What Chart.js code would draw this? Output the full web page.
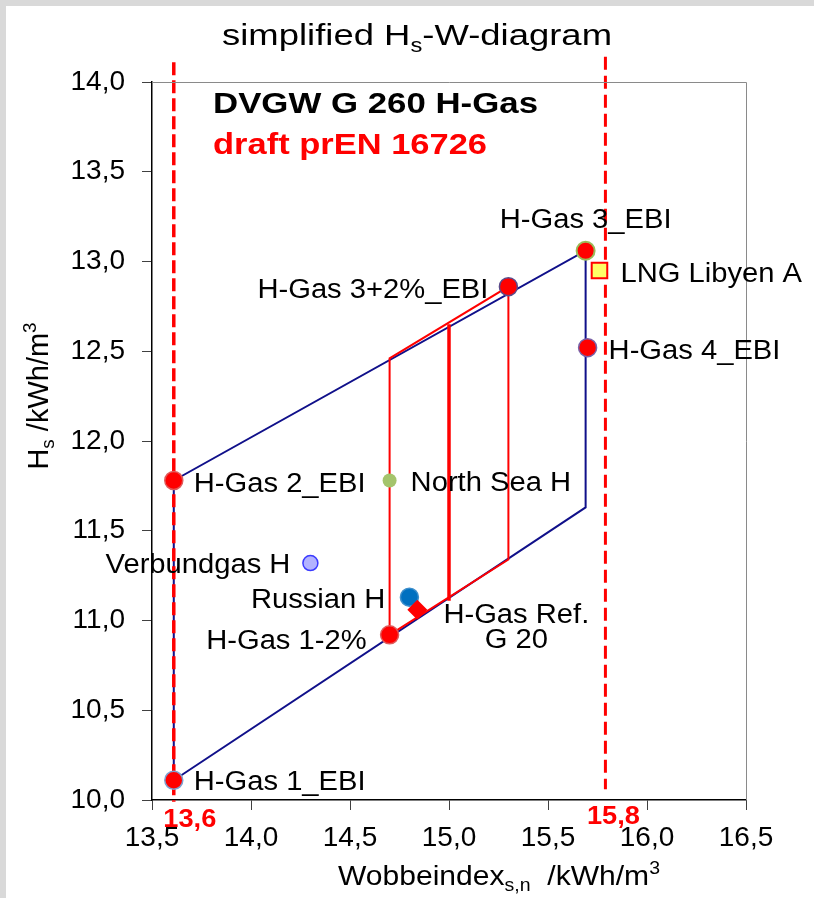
<!DOCTYPE html>
<html>
<head>
<meta charset="utf-8">
<title>simplified Hs-W-diagram</title>
<script src="https://cdn.jsdelivr.net/npm/chart.js@4.4.1/dist/chart.umd.min.js"></script>
<style>
    body { margin: 0; background: #d9d9d9; }
    #wrap { position: absolute; left: 6px; top: 6px; width: 808px; height: 892px; background: #fff; }
</style>
</head>
<body>
<div id="wrap"><canvas id="hsChart"></canvas></div>
<script>
// axis ticks
const xTicks = [13.5, 14.0, 14.5, 15.0, 15.5, 16.0, 16.5];
const xTickLabels = ['13,5', '14,0', '14,5', '15,0', '15,5', '16,0', '16,5'];
const yTicks = [10.0, 10.5, 11.0, 11.5, 12.0, 12.5, 13.0, 13.5, 14.0];
const yTickLabels = ['10,0', '10,5', '11,0', '11,5', '12,0', '12,5', '13,0', '13,5', '14,0'];

// gases (Wobbe index / calorific value)
const gasNames = ['H-Gas 1_EBI', 'H-Gas 2_EBI', 'H-Gas 3_EBI', 'H-Gas 3+2%_EBI', 'H-Gas 4_EBI',
    'H-Gas 1-2%', 'LNG Libyen A', 'North Sea H', 'Verbundgas H', 'Russian H', 'H-Gas Ref.\nG 20'];
const gasW = [13.61, 13.61, 15.69, 15.30, 15.70, 14.70, 15.76, 14.70, 14.30, 14.80, 14.84];
const gasH = [10.11, 11.78, 13.06, 12.86, 12.52, 10.92, 12.95, 11.78, 11.32, 11.13, 11.06];

// DVGW G 260 range (blue)
const dvgwW = [13.61, 15.69, 15.69, 13.61, 13.61];
const dvgwH = [10.11, 11.63, 13.06, 11.78, 10.11];

// draft prEN 16726 range (red)
const prenW = [14.70, 15.30, 15.30, 14.70, 14.70];
const prenH = [10.92, 11.34, 12.86, 12.46, 10.92];
const prenMidW = [15.00, 15.00];
const prenMidH = [11.11, 12.65];

// Wobbe limits (dashed)
const limitLowW = [13.61, 13.61];
const limitLowH = [14.11, 9.99];
const limitHighW = [15.79, 15.79];
const limitHighH = [14.14, 10.06];
const limitLabels = ['13,6', '15,8'];

// marker styles
const gasStyle = ['circle', 'circle', 'circle', 'circle', 'circle', 'circle', 'rect', 'circle', 'circle', 'circle', 'rectRot'];
const gasRadius = [9, 9, 9, 9, 9, 9, 11, 7, 7.5, 9, 10];
const gasFill = ['#ff0000', '#ff0000', '#ff0000', '#ff0000', '#ff0000', '#ff0000', '#ffff66', '#a4c46c', '#b3b3ff', '#0070c0', '#ff0000'];
const gasBorder = ['#7f9fcf', '#e05a5a', '#9bbb59', '#5b4b8a', '#7a62a8', '#e05a5a', '#ff0000', '#a4c46c', '#3a3aff', '#3d8fcc', '#ff0000'];
const gasBorderW = [1.5, 1.5, 2, 1.5, 1.5, 1.5, 2, 0, 1.5, 1.5, 0];

// label placement relative to marker (px)
const labelDx = [20, 20, 0, -20, 21, -23, 21, 21, -20, -24, 99];
const labelDy = [0, 2, -33, 1, 1, 4, 2, 1, 0, 1, 3];
const labelAlign = ['left', 'left', 'center', 'right', 'left', 'right', 'left', 'left', 'right', 'right', 'center'];

const FONT = '"Liberation Sans", Arial, sans-serif';

function pts(xs, ys) {
    return xs.map((x, i) => ({ x: x, y: ys[i] }));
}

// text with sub/superscripts
function richWidth(ctx, parts, size, weight) {
    let w = 0;
    parts.forEach(p => {
        ctx.font = weight + ' ' + ((p.sub || p.sup) ? size * 0.65 : size) + 'px ' + FONT;
        w += ctx.measureText(p.t).width;
    });
    return w;
}

function drawRich(ctx, parts, x, y, o) {
    const weight = o.bold ? 'bold' : 'normal';
    const w = richWidth(ctx, parts, o.size, weight);
    const sx = o.width ? o.width / w : (o.sx || 1);
    ctx.save();
    ctx.translate(x, y);
    if (o.rotate) ctx.rotate(o.rotate);
    ctx.scale(sx, 1);
    let cx = o.align === 'center' ? -w / 2 : (o.align === 'right' ? -w : 0);
    ctx.fillStyle = o.color || '#000';
    ctx.textAlign = 'left';
    ctx.textBaseline = 'alphabetic';
    parts.forEach(p => {
        ctx.font = weight + ' ' + ((p.sub || p.sup) ? o.size * 0.65 : o.size) + 'px ' + FONT;
        const dy = p.sub ? o.size * 0.22 : (p.sup ? -o.size * 0.4 : 0);
        ctx.fillText(p.t, cx, dy);
        cx += ctx.measureText(p.t).width;
    });
    ctx.restore();
}

const annotations = {
    id: 'annotations',
    afterDraw(chart) {
        const ctx = chart.ctx;
        const area = chart.chartArea;
        const xs = chart.scales.x;

        // frame top/right
        ctx.save();
        ctx.strokeStyle = '#8a8a8a';
        ctx.lineWidth = 1;
        ctx.beginPath();
        ctx.moveTo(area.left, area.top + 0.5);
        ctx.lineTo(area.right + 0.5, area.top + 0.5);
        ctx.lineTo(area.right + 0.5, area.bottom);
        ctx.stroke();
        ctx.restore();

        // title and axis titles
        drawRich(ctx, [{ t: 'simplified H' }, { t: 's', sub: true }, { t: '-W-diagram' }],
            411, 39, { size: 30, align: 'center', width: 390 });
        drawRich(ctx, [{ t: 'H' }, { t: 's', sub: true }, { t: ' /kWh/m' }, { t: '3', sup: true }],
            42, 390, { size: 29, align: 'center', rotate: -Math.PI / 2 });
        drawRich(ctx, [{ t: 'Wobbeindex' }, { t: 's,n', sub: true }, { t: '  /kWh/m' }, { t: '3', sup: true }],
            493, 879, { size: 28, align: 'center', width: 322 });

        // legend texts
        drawRich(ctx, [{ t: 'DVGW G 260 H-Gas' }], area.left + 61, area.top + 31,
            { size: 29, bold: true, width: 325 });
        drawRich(ctx, [{ t: 'draft prEN 16726' }], area.left + 61, area.top + 72,
            { size: 29, bold: true, width: 274, color: '#ff0000' });

        // limit values under the axis
        drawRich(ctx, [{ t: limitLabels[0] }], xs.getPixelForValue(limitLowW[0]) + 16, area.bottom + 27,
            { size: 26, bold: true, width: 53, color: '#ff0000', align: 'center' });
        drawRich(ctx, [{ t: limitLabels[1] }], xs.getPixelForValue(limitHighW[0]) + 8, area.bottom + 24,
            { size: 26, bold: true, width: 53, color: '#ff0000', align: 'center' });

        // gas labels
        const meta = chart.getDatasetMeta(0);
        meta.data.forEach((el, i) => {
            const lines = gasNames[i].split('\n');
            lines.forEach((line, k) => {
                drawRich(ctx, [{ t: line }], el.x + labelDx[i], el.y + labelDy[i] + 10 + k * 25,
                    { size: 27, sx: 1.08, align: labelAlign[i] });
            });
        });
    }
};

const ctx = document.getElementById('hsChart').getContext('2d');
new Chart(ctx, {
    type: 'scatter',
    data: {
        datasets: [
            {
                label: 'gases',
                data: pts(gasW, gasH),
                pointStyle: gasStyle,
                pointRadius: gasRadius,
                backgroundColor: gasFill,
                borderColor: gasBorder,
                borderWidth: gasBorderW,
                showLine: false
            },
            {
                label: 'limit low',
                data: pts(limitLowW, limitLowH),
                showLine: true,
                borderColor: '#ff0000',
                borderWidth: 3.5,
                borderDash: [13, 5],
                pointRadius: 0,
                clip: false
            },
            {
                label: 'limit high',
                data: pts(limitHighW, limitHighH),
                showLine: true,
                borderColor: '#ff0000',
                borderWidth: 3,
                borderDash: [13, 6],
                pointRadius: 0,
                clip: false
            },
            {
                label: 'prEN middle',
                data: pts(prenMidW, prenMidH),
                showLine: true,
                borderColor: '#ff0000',
                borderWidth: 3.5,
                pointRadius: 0
            },
            {
                label: 'draft prEN 16726',
                data: pts(prenW, prenH),
                showLine: true,
                borderColor: '#ff0000',
                borderWidth: 2,
                pointRadius: 0
            },
            {
                label: 'DVGW G 260 H-Gas',
                data: pts(dvgwW, dvgwH),
                showLine: true,
                borderColor: '#10108a',
                borderWidth: 2,
                pointRadius: 0
            }
        ]
    },
    options: {
        responsive: true,
        maintainAspectRatio: false,
        animation: false,
        layout: { padding: { top: 76, right: 68, left: 0, bottom: 0 } },
        plugins: {
            legend: { display: false },
            tooltip: { enabled: false }
        },
        scales: {
            x: {
                type: 'linear',
                min: 13.5,
                max: 16.5,
                afterBuildTicks: scale => { scale.ticks = xTicks.map(v => ({ value: v })); },
                afterFit: scale => { scale.height = 98; },
                ticks: {
                    callback: (value, index) => xTickLabels[index],
                    color: '#000',
                    padding: 11,
                    maxRotation: 0,
                    font: { family: FONT, size: 28 }
                },
                grid: { drawOnChartArea: false, tickLength: 10, tickColor: '#404040' },
                border: { color: '#000', width: 1.5 }
            },
            y: {
                type: 'linear',
                min: 10,
                max: 14,
                afterBuildTicks: scale => { scale.ticks = yTicks.map(v => ({ value: v })); },
                afterFit: scale => { scale.width = 146; },
                ticks: {
                    callback: (value, index) => yTickLabels[index],
                    color: '#000',
                    padding: 17,
                    font: { family: FONT, size: 28 }
                },
                grid: { drawOnChartArea: false, tickLength: 10, tickColor: '#404040' },
                border: { color: '#000', width: 1.5 }
            }
        }
    },
    plugins: [annotations]
});
</script>
</body>
</html>
